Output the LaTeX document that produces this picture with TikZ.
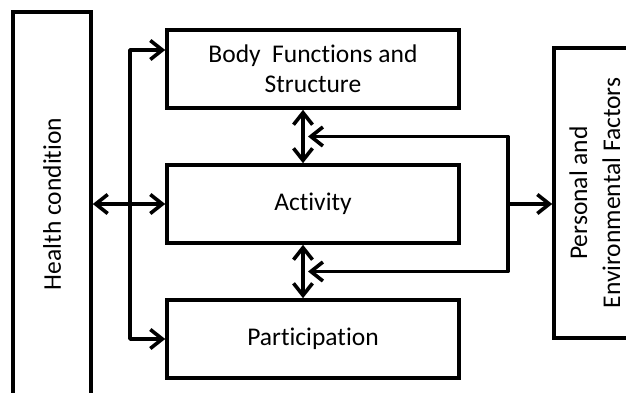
\documentclass[tikz,border=0pt]{standalone}
\usepackage{fontspec}
\setmainfont[Ligatures=NoCommon]{Carlito}
\usetikzlibrary{arrows.meta, positioning, calc}

\begin{document}
\begin{tikzpicture}[
  x=1pt, y=-1pt,
  node distance=53.4pt,
  box/.style={rectangle, draw, line width=3.6pt, minimum width=292pt, minimum height=78pt, align=center, font=\fontsize{25.5}{30}\selectfont},
  sidebox/.style={rectangle, draw, line width=3.6pt, inner sep=0pt, font=\fontsize{25.5}{33}\selectfont},
  tip/.tip={Straight Barb[length=12pt,width=19pt]},
  flow/.style={line width=3.6pt, line join=round, tip-tip}
]
\useasboundingbox (0,0) rectangle (626,393);

% Nodes
\node[sidebox, minimum width=78pt, minimum height=384pt] (health) at (52,204) {\rotatebox{90}{Health condition}};
\node[box] (body) at (313,69) {Body\ \ Functions and\\Structure};
\node[box, below=of body] (act) {Activity};
\node[box, below=of act] (part) {Participation};
\node[sidebox, minimum width=86pt, minimum height=290pt] (env) at (597,193) {\rotatebox{90}{\begin{tabular}{@{}c@{}}Personal and\\Environmental Factors\end{tabular}}};

% Helper points
\coordinate (split) at (130,0 |- act.west);
\coordinate (fb) at (508,0 |- act.east);
\coordinate (up) at ($([xshift=-10pt]body.south)!0.5!([xshift=-10pt]act.north)$);
\coordinate (low) at ($([xshift=-10pt]act.south)!0.5!([xshift=-10pt]part.north)$);

% Connections
\draw[flow] (health.east) -- (act.west);
\draw[flow, -tip] (split) |- ([yshift=19pt]body.west);
\draw[flow, -tip] (split) |- (part.west);
\draw[flow] ([xshift=-10pt]body.south) -- ([xshift=-10pt]act.north);
\draw[flow] ([xshift=-10pt]act.south) -- ([xshift=-10pt]part.north);
\draw[flow, tip-] ([xshift=5pt]up) -| (fb);
\draw[flow, tip-] ([xshift=5pt]low) -| (fb);
\draw[flow, -tip] (fb) -- (env.west |- fb);

\end{tikzpicture}
\end{document}
